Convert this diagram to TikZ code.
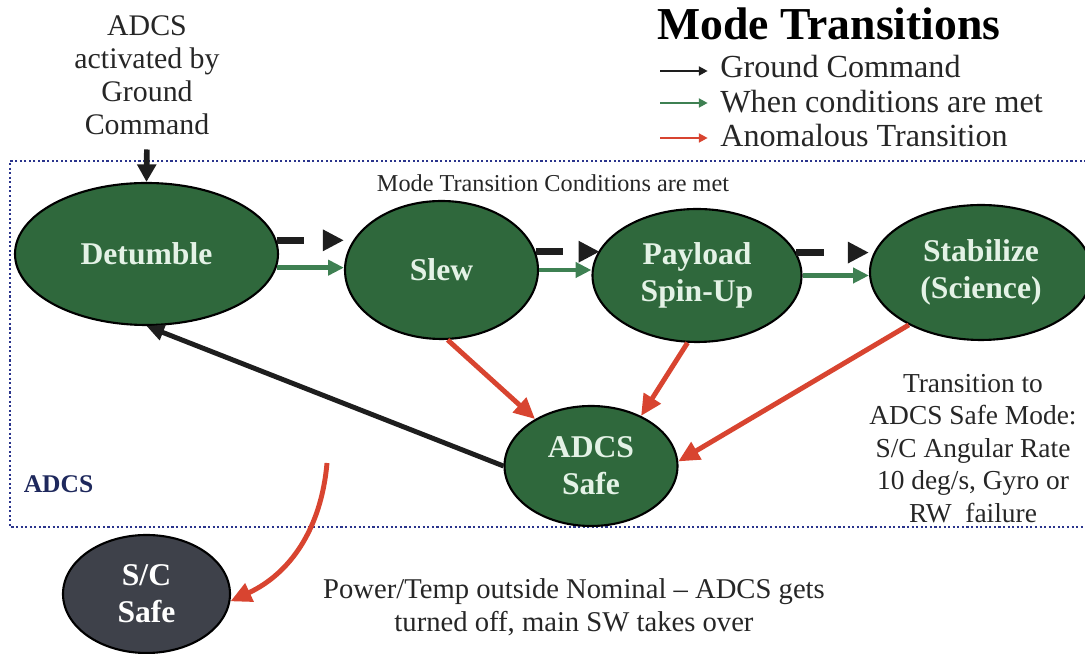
\documentclass[tikz,border=0pt]{standalone}
\usepackage{fontspec}
\setmainfont{Liberation Serif}
\usepackage{tikz}
\usetikzlibrary{arrows.meta,shapes.geometric,calc}
\definecolor{modegreen}{RGB}{47,104,60}
\definecolor{modetext}{RGB}{228,242,230}
\definecolor{scgray}{RGB}{62,65,74}
\definecolor{condgreen}{RGB}{62,128,82}
\definecolor{anomred}{RGB}{216,68,48}
\definecolor{boxnavy}{RGB}{42,52,140}
\definecolor{labelnavy}{RGB}{30,40,92}
\definecolor{txtgray}{RGB}{38,38,38}
\definecolor{cmdblack}{RGB}{30,30,30}

\begin{document}
\begin{tikzpicture}[
  mode/.style={ellipse, draw=black, line width=1.2pt, fill=modegreen, text=modetext,
    inner sep=0pt, align=center, font=\fontsize{18}{21}\selectfont\bfseries},
  txt/.style={inner sep=0pt, align=center, text=txtgray},
  gcmd/.style={cmdblack, line width=4pt, dash pattern=on 15.5pt off 40pt,
    -{Triangle[length=12pt,width=11.5pt]}},
  gnd/.style={cmdblack, line width=3.2pt, -{Triangle[length=10pt,width=10.5pt]}},
  cond/.style={condgreen, line width=2.8pt, -{Triangle[length=9pt,width=8.5pt]}},
  anom/.style={anomred, line width=2.8pt, -{Triangle[length=12pt,width=11pt]}},
  back/.style={cmdblack, line width=2.8pt, -{Triangle[length=10pt,width=9pt]}},
  legarrow/.style={line width=1.3pt, shorten >=7pt, -{Triangle[length=5pt,width=5pt]}},
  legtxt/.style={inner sep=0pt, text=txtgray, font=\fontsize{18.3}{20}\selectfont}
]
\useasboundingbox (0,0) rectangle (21.7,13.08);

\draw[boxnavy, line width=1.3pt, dash pattern=on 1.2pt off 1.4pt]
  (22,9.86) -- (0.2,9.86) -- (0.2,2.54) -- (22,2.54);

\node[txt, anchor=base, text=black, font=\fontsize{26}{30}\selectfont\bfseries] (title) at (16.58,12.28) {Mode Transitions};
\node[legtxt, anchor=base west] (lgcmd) at (14.4,11.52) {Ground Command};
\node[legtxt, anchor=base west] (lgcond) at (14.4,10.82) {When conditions are met};
\node[legtxt, anchor=base west] (lganom) at (14.4,10.14) {Anomalous Transition};
\coordinate (lgcmd0) at (13.2,11.66);
\coordinate (lgcond0) at (13.2,11.02);
\coordinate (lganom0) at (13.2,10.32);
\draw[legarrow, cmdblack] (lgcmd0) -- (lgcmd0 -| lgcmd.west);
\draw[legarrow, condgreen] (lgcond0) -- (lgcond0 -| lgcond.west);
\draw[legarrow, anomred] (lganom0) -- (lganom0 -| lganom.west);

\node[txt, font=\fontsize{17}{18.8}\selectfont] (activ) at (2.94,11.57) {ADCS\\activated by\\Ground\\Command};
\node[txt, anchor=base, font=\fontsize{13.8}{16}\selectfont] (condmet) at (11.06,9.24) {Mode Transition Conditions are met};

\node[mode, minimum width=5.26cm, minimum height=2.84cm] (Detumble) at (2.93,8.0) {Detumble};
\node[mode, minimum width=3.86cm, minimum height=2.76cm] (Slew) at (8.83,7.68) {Slew};
\node[mode, minimum width=4.18cm, minimum height=2.66cm] (Payload) at (13.94,7.57) {Payload\\Spin-Up};
\node[mode, minimum width=4.44cm, minimum height=2.7cm] (Stabilize) at (19.62,7.63) {Stabilize\\(Science)};
\node[mode, minimum width=3.46cm, minimum height=2.4cm] (ADCSsafe) at (11.82,3.76) {ADCS\\Safe};
\node[mode, fill=scgray, text=white, minimum width=3.34cm, minimum height=2.36cm] (SCsafe) at (2.93,1.2) {S/C\\Safe};

\node[inner sep=0pt, text=labelnavy, font=\fontsize{14.5}{16}\selectfont\bfseries] (adcslbl) at (1.17,3.39) {ADCS};
\node[txt, font=\fontsize{15.6}{18.5}\selectfont] (safenote) at (19.46,4.11) {Transition to\\ADCS Safe Mode:\\S/C Angular Rate\\10 deg/s, Gyro or\\RW\ \ failure};
\node[txt, font=\fontsize{16.3}{18.8}\selectfont] (offnote) at (11.48,0.93) {Power/Temp outside Nominal – ADCS gets\\turned off, main SW takes over};

\draw[gnd, shorten <=8pt] (activ.south) -- (Detumble.north);

\draw[gcmd] (Detumble.6) -- (Detumble.6 -| Slew.west);
\draw[gcmd] (Slew.11) -- (Slew.11 -| Payload.165);
\draw[gcmd] (Payload.13.5) -- (Payload.13.5 -| Stabilize.west);

\draw[cond] (Detumble.-6) -- (Detumble.-6 -| Slew.west);
\draw[cond] (Slew.east) -- (Slew.east -| Payload.west);
\draw[cond] (Payload.east) -- (Payload.east -| Stabilize.west);

\draw[anom] (Slew.-85) -- (ADCSsafe.140);
\draw[anom] (Payload.-98) -- (ADCSsafe.45);
\draw[anom] (Stabilize.-144) -- (ADCSsafe.3);
\draw[back] (ADCSsafe.west) -- (Detumble.south);

\coordinate (sclink) at (6.54,3.82);
\draw[anom] (sclink) to[out=-95, in=25] (SCsafe.-5);
\end{tikzpicture}
\end{document}
